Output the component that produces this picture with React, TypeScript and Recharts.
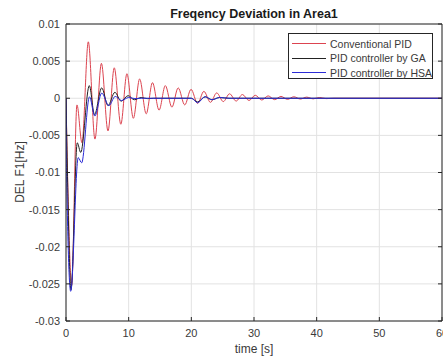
import React from 'react';
import { LineChart, Line, XAxis, YAxis, CartesianGrid, ReferenceArea } from 'recharts';

const xTicks = [0, 10, 20, 30, 40, 50, 60];
const yTicks = [-0.03, -0.025, -0.02, -0.015, -0.01, -0.005, 0, 0.005, 0.01];

const seriesNames = ['Conventional PID', 'PID controller by GA', 'PID controller by HSA'];

const conventionalTime = [0, 0.3, 0.9, 1.75, 2.55, 3.56, 4.62, 5.65, 6.7, 7.7, 8.75, 9.72, 10.75, 11.75, 12.8, 13.8, 14.85, 15.85, 16.9, 17.9, 18.95, 19.95, 21.0, 22.0, 23.05, 24.05, 25.1, 26.1, 27.15, 28.15, 29.2, 30.2, 31.25, 32.25, 33.3, 34.3, 35.35, 36.35, 37.4, 38.4, 39.45, 40.45, 41.5, 42.8, 60];
const conventionalValue = [0, -0.012, -0.0252, -0.0009, -0.006, 0.0076, -0.0055, 0.0047, -0.0044, 0.0041, -0.0035, 0.0033, -0.0027, 0.0026, -0.0021, 0.0021, -0.0016, 0.0017, -0.0012, 0.0014, -0.0009, 0.0012, -0.0007, 0.00093, -0.00055, 0.00072, -0.00045, 0.0006, -0.00038, 0.0005, -0.0003, 0.0004, -0.00024, 0.00032, -0.00019, 0.00025, -0.00015, 0.0002, -0.00011, 0.00015, -0.00008, 0.0001, -0.00005, 0, 0];

const gaTime = [0, 0.2, 0.8, 1.8, 2.35, 3.72, 4.55, 5.7, 6.7, 7.8, 8.8, 9.9, 10.9, 12.0, 13.0, 14.0, 20.0, 21.0, 22.2, 23.3, 24.5, 26, 60];
const gaValue = [0, -0.009, -0.0258, -0.006, -0.0073, 0.0017, -0.0022, 0.0014, -0.001, 0.0008, -0.0004, 0.00035, -0.0002, 0.0001, -0.00005, 0, 0, -0.0005, 0.0002, -0.0002, 0.0001, 0, 0];

const hsaTime = [0, 0.1, 0.75, 1.95, 2.5, 3.75, 4.6, 5.7, 6.85, 7.85, 8.85, 10, 11, 12, 20, 21, 22.2, 23.3, 24.5, 26, 60];
const hsaValue = [0, -0.0105, -0.026, -0.008, -0.0087, 0.0002, -0.0024, 0.0007, -0.001, 0.00025, -0.0003, 0.0001, -0.00005, 0, 0, -0.0006, 0.0002, -0.0002, 0.0001, 0, 0];

const toPoints = (ts: number[], vs: number[]) => ts.map((t, i) => ({ t, v: vs[i] }));

const conventionalData = toPoints(conventionalTime, conventionalValue);
const gaData = toPoints(gaTime, gaValue);
const hsaData = toPoints(hsaTime, hsaValue);

const RED = '#dc4450';
const BLACK = '#222222';
const BLUE = '#2b2bd6';
const AXIS = '#262626';
const TEXT = '#3a3a3a';
const FONT = '"Liberation Sans", Arial, Helvetica, sans-serif';

export default function App() {
  const W = 443;
  const H = 356;
  const legendItems = [
    { name: seriesNames[0], color: RED },
    { name: seriesNames[1], color: BLACK },
    { name: seriesNames[2], color: BLUE },
  ];
  return (
    <div style={{ position: 'absolute', left: 0, top: 0, width: W, height: H, background: '#fff', fontFamily: FONT, overflow: 'hidden' }}>
      <LineChart width={W} height={H} margin={{ top: 23, right: 0, bottom: 0, left: 0 }}>
        <CartesianGrid stroke="#e2e2e2" strokeWidth={1} />
        <XAxis
          type="number"
          dataKey="t"
          domain={[0, 60]}
          ticks={xTicks}
          interval={0}
          allowDataOverflow
          height={35}
          tickLine={{ stroke: AXIS }}
          tickSize={-4}
          tickMargin={12}
          axisLine={{ stroke: AXIS }}
          tick={{ fill: TEXT, fontSize: 11, fontFamily: FONT }}
        />
        <XAxis
          xAxisId="top"
          orientation="top"
          type="number"
          domain={[0, 60]}
          ticks={xTicks}
          interval={0}
          allowDataOverflow
          height={1}
          tickLine={{ stroke: AXIS }}
          tickSize={-4}
          axisLine={{ stroke: AXIS }}
          tick={{ fill: 'none', fontSize: 1 }}
          tickFormatter={() => ''}
        />
        <YAxis
          type="number"
          domain={[-0.03, 0.01]}
          ticks={yTicks}
          interval={0}
          allowDataOverflow
          width={66}
          tickLine={{ stroke: AXIS }}
          tickSize={-4}
          tickMargin={10}
          axisLine={{ stroke: AXIS }}
          tick={{ fill: TEXT, fontSize: 11, fontFamily: FONT }}
          tickFormatter={(v: number) => String(v)}
        />
        <YAxis
          yAxisId="right"
          orientation="right"
          type="number"
          domain={[-0.03, 0.01]}
          ticks={yTicks}
          interval={0}
          allowDataOverflow
          width={1}
          tickLine={{ stroke: AXIS }}
          tickSize={-4}
          axisLine={{ stroke: AXIS }}
          tick={{ fill: 'none', fontSize: 1 }}
          tickFormatter={() => ''}
        />
        <Line data={conventionalData} dataKey="v" type="monotone" stroke={RED} strokeWidth={1} dot={false} isAnimationActive={false} name={seriesNames[0]} />
        <Line data={gaData} dataKey="v" type="monotone" stroke={BLACK} strokeWidth={1} dot={false} isAnimationActive={false} name={seriesNames[1]} />
        <Line data={hsaData} dataKey="v" type="monotone" stroke={BLUE} strokeWidth={1} dot={false} isAnimationActive={false} name={seriesNames[2]} />
      </LineChart>

      <div style={{ position: 'absolute', left: 0, width: 508, top: 6, textAlign: 'center', fontWeight: 'bold', fontSize: 12.5, color: '#1a1a1a', lineHeight: '16px' }}>
        Freqency Deviation in Area1
      </div>
      <div style={{ position: 'absolute', left: 154, width: 200, top: 341, textAlign: 'center', fontSize: 12, color: TEXT, lineHeight: '16px' }}>
        time [s]
      </div>
      <div style={{ position: 'absolute', left: 20 - 60, top: 172 - 8, width: 120, height: 16, textAlign: 'center', fontSize: 12, color: TEXT, lineHeight: '16px', transform: 'rotate(-90deg)' }}>
        DEL F1[Hz]
      </div>

      <div style={{ position: 'absolute', left: 288, top: 33, width: 145, height: 46, border: `1px solid ${AXIS}`, background: '#fff', boxSizing: 'border-box' }}>
        {legendItems.map((it, i) => (
          <div key={it.name} style={{ position: 'absolute', left: 3, top: 2 + i * 14.5, height: 14, lineHeight: '14px', whiteSpace: 'nowrap' }}>
            <span style={{ display: 'inline-block', width: 34, height: 0, borderTop: `1px solid ${it.color}`, verticalAlign: 'middle' }} />
            <span style={{ display: 'inline-block', marginLeft: 4, fontSize: 10.5, lineHeight: '14px', color: TEXT, verticalAlign: 'middle' }}>{it.name}</span>
          </div>
        ))}
      </div>
    </div>
  );
}
